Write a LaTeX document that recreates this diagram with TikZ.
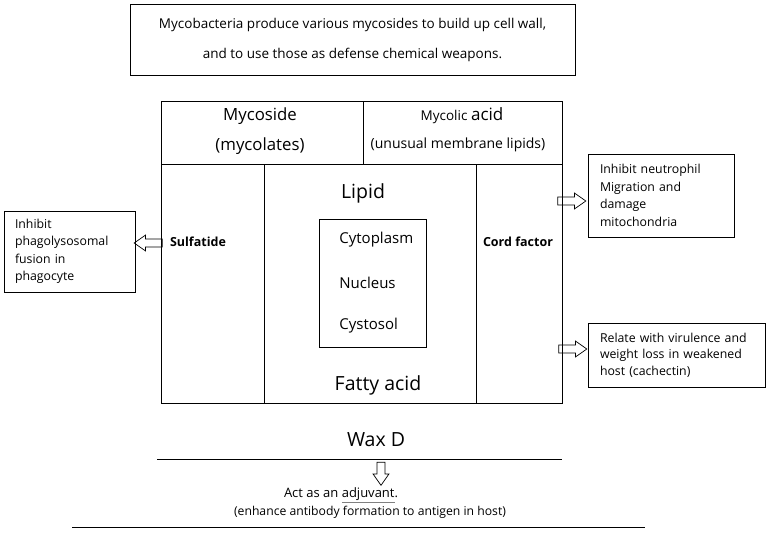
\documentclass[tikz,border=0pt]{standalone}
\usepackage{fontspec}
\setmainfont{Open Sans}
\usetikzlibrary{positioning,shapes.arrows}
\tikzset{
  fig/.style={font=\fontsize{12}{14}\selectfont,line width=0.8pt},
  box/.style={draw,inner sep=0pt,align=center},
  notebox/.style={draw,inner xsep=11pt,inner ysep=4pt,align=left,
                  font=\fontsize{12.3}{17.5}\selectfont},
  hollow/.style={single arrow,draw,line width=0.7pt,inner sep=3.6pt,
                 single arrow head extend=4pt,single arrow tip angle=70,
                 minimum height=28pt},
  big/.style={font=\fontsize{19.5}{22}\selectfont,inner sep=0pt},
  lbl/.style={font=\fontsize{14}{16}\selectfont,inner sep=0pt},
  bold/.style={font=\fontsize{12.5}{15}\selectfont\bfseries,inner sep=0pt},
  tiny/.style={font=\fontsize{12.2}{14}\selectfont,inner sep=0pt},
}

\begin{document}
\begin{tikzpicture}[fig,x=1pt,y=-1pt]
\useasboundingbox (0,0) rectangle (770,533);

% heading
\node[box,minimum width=445pt,minimum height=71pt,
      font=\fontsize{13.5}{30}\selectfont] (intro) at (352.5,39.5)
  {Mycobacteria produce various mycosides to build up cell wall,\\
   and to use those as defense chemical weapons.};

% cell wall table
\draw (161,101) rectangle (562,403);
\draw (161,164) -- (562,164);
\draw (363,101) -- (363,164);
\draw (264,164) -- (264,403);
\draw (476,164) -- (476,403);

\node[box,draw=none,font=\fontsize{16.8}{30}\selectfont] (myco) at (260,131) {Mycoside\\(mycolates)};
\node[lbl] (mycolic) at (462,116)
  {{\fontsize{13.5}{15}\selectfont Mycolic} {\fontsize{17}{15}\selectfont acid}};
\node[lbl] (unusual) at (458,145) {(unusual membrane lipids)};

\node[bold] (sulf) at (198,242) {Sulfatide};
\node[bold] (cord) at (518,242) {Cord factor};

\node[big] (lipid) at (363,193) {Lipid};
\node[box,minimum width=107pt,minimum height=128pt] (cell) at (373,283) {};
\node[lbl,anchor=west,font=\fontsize{15}{16}\selectfont] (cyto) at (339,240) {Cytoplasm};
\node[lbl,anchor=west,font=\fontsize{15}{16}\selectfont] (nucl) at (339,283) {Nucleus};
\node[lbl,anchor=west,font=\fontsize{15}{16}\selectfont] (cyst) at (339,326) {Cystosol};
\node[big] (fatty) at (378,385) {Fatty acid};

% effects
\node[notebox,text width=109pt,minimum height=81pt] (phago) at (69.5,251.5)
  {Inhibit\\phagolysosomal\\fusion in\\phagocyte};
\node[notebox,inner xsep=12pt,text width=122pt,minimum height=83pt] (neutro) at (661,195.5)
  {Inhibit neutrophil\\Migration and\\damage\\mitochondria};
\node[notebox,inner xsep=12pt,text width=153pt,minimum height=64pt,
      font=\fontsize{12.3}{16.5}\selectfont] (viru) at (676.5,355)
  {\makebox[153pt][s]{Relate with virulence and}\\
   \makebox[153pt][s]{weight loss in weakened}\\host (cachectin)};

\node[hollow,shape border rotate=180] (a1) at (151,243) {};
\node[hollow] (a2) at (569,201) {};
\node[hollow] (a3) at (570,349) {};

% wax D
\node[big] (wax) at (376,440) {Wax D};
\coordinate (wl) at (157,459);
\coordinate (wr) at (562,459);
\draw (wl) -- (wr);
\node[hollow,shape border rotate=270,minimum height=23pt] (a4) at (381,471) {};
\node[tiny,font=\fontsize{13}{14}\selectfont] (adj) at (341,495)
  {Act as an \textcolor{gray}{\underline{\textcolor{black}{adjuvant}}}.};
\node[tiny] (enh) at (370,512) {(enhance antibody formation to antigen in host)};
\coordinate (bl) at (72,527);
\coordinate (br) at (645,527);
\draw (bl) -- (br);

\end{tikzpicture}
\end{document}
